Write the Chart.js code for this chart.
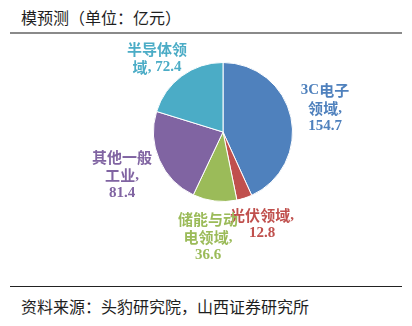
<!DOCTYPE html>
<html>
<head>
<meta charset="utf-8">
<script src="https://cdn.jsdelivr.net/npm/chart.js@4"></script>
<style>
  body { margin: 0; width: 412px; height: 326px; background: #fff; position: relative; overflow: hidden; font-family: "Noto Sans CJK SC", sans-serif; }
  .title { position: absolute; left: 21px; top: 5px; font-size: 16px; color: #1e1e1e; }
  .rule1 { position: absolute; left: 10px; top: 32px; width: 392px; height: 2px; background: #8a8a8a; }
  .rule2 { position: absolute; left: 10px; top: 286px; width: 392px; height: 1px; background: #222; }
  .source { position: absolute; left: 21px; top: 294px; font-size: 16px; color: #1e1e1e; }
  #box { position: absolute; left: 0; top: 36px; width: 412px; height: 248px; }
</style>
</head>
<body>
<div class="title">模预测（单位：亿元）</div>
<div class="rule1"></div>
<div id="box"><canvas id="myChart"></canvas></div>
<div class="rule2"></div>
<div class="source">资料来源：头豹研究院，山西证券研究所</div>
<script>
// 应用领域及规模（亿元）
let categories = ['3C电子领域', '光伏领域', '储能与动电领域', '其他一般工业', '半导体领域'];
let values = [154.7, 12.8, 36.6, 81.4, 72.4];
let colors = ['#4F81BD', '#C0504D', '#9BBB59', '#8064A2', '#4BACC6'];

// 标签分行，{v} 换成数值
let labelLines = [
  ['3C电子', '领域,', '{v}'],
  ['光伏领域,', '{v}'],
  ['储能与动', '电领域,', '{v}'],
  ['其他一般', '工业,', '{v}'],
  ['半导体领', '域, {v}']
];
// 标签中心相对圆心的偏移
let labelOffset = [[102, -24], [39, 92], [-15, 105], [-101, 43], [-66, -74]];

const lineH = 18;

function drawRuns(c, text, x, y) {
  // 中文用黑体，数字和标点用粗衬线
  let runs = text.match(/[\u3000-\u9fff]+|[^\u3000-\u9fff]+/g);
  let fonts = runs.map(r => /[\u3000-\u9fff]/.test(r) ? 'bold 15px "Noto Sans CJK SC"' : 'bold 15px "Liberation Serif"');
  let widths = runs.map((r, i) => { c.font = fonts[i]; return c.measureText(r).width; });
  let total = widths.reduce((a, b) => a + b, 0);
  let cx = x - total / 2;
  runs.forEach((r, i) => {
    c.font = fonts[i];
    c.fillText(r, cx, y);
    cx += widths[i];
  });
}

const pieLabels = {
  id: 'pieLabels',
  afterDatasetsDraw(chart) {
    let c = chart.ctx;
    let arcs = chart.getDatasetMeta(0).data;
    c.save();
    c.textBaseline = 'middle';
    c.textAlign = 'left';
    arcs.forEach((arc, i) => {
      let lines = labelLines[i].map(l => l.replace('{v}', values[i].toFixed(1)));
      let x = arc.x + labelOffset[i][0];
      let y0 = arc.y + labelOffset[i][1] - (lines.length - 1) * lineH / 2;
      c.fillStyle = colors[i];
      lines.forEach((l, k) => drawRuns(c, l, x, y0 + k * lineH));
    });
    c.restore();
  }
};

const ctx = document.getElementById('myChart');
let myChart = new Chart(ctx, {
  type: 'pie',
  data: {
    labels: categories,
    datasets: [{
      data: values,
      backgroundColor: colors,
      borderColor: '#ffffff',
      borderWidth: 1
    }]
  },
  options: {
    responsive: true,
    maintainAspectRatio: false,
    animation: false,
    layout: { padding: { left: 153, right: 119, top: 26, bottom: 82 } },
    plugins: {
      legend: { display: false },
      tooltip: { enabled: false }
    }
  },
  plugins: [pieLabels]
});
</script>
</body>
</html>
